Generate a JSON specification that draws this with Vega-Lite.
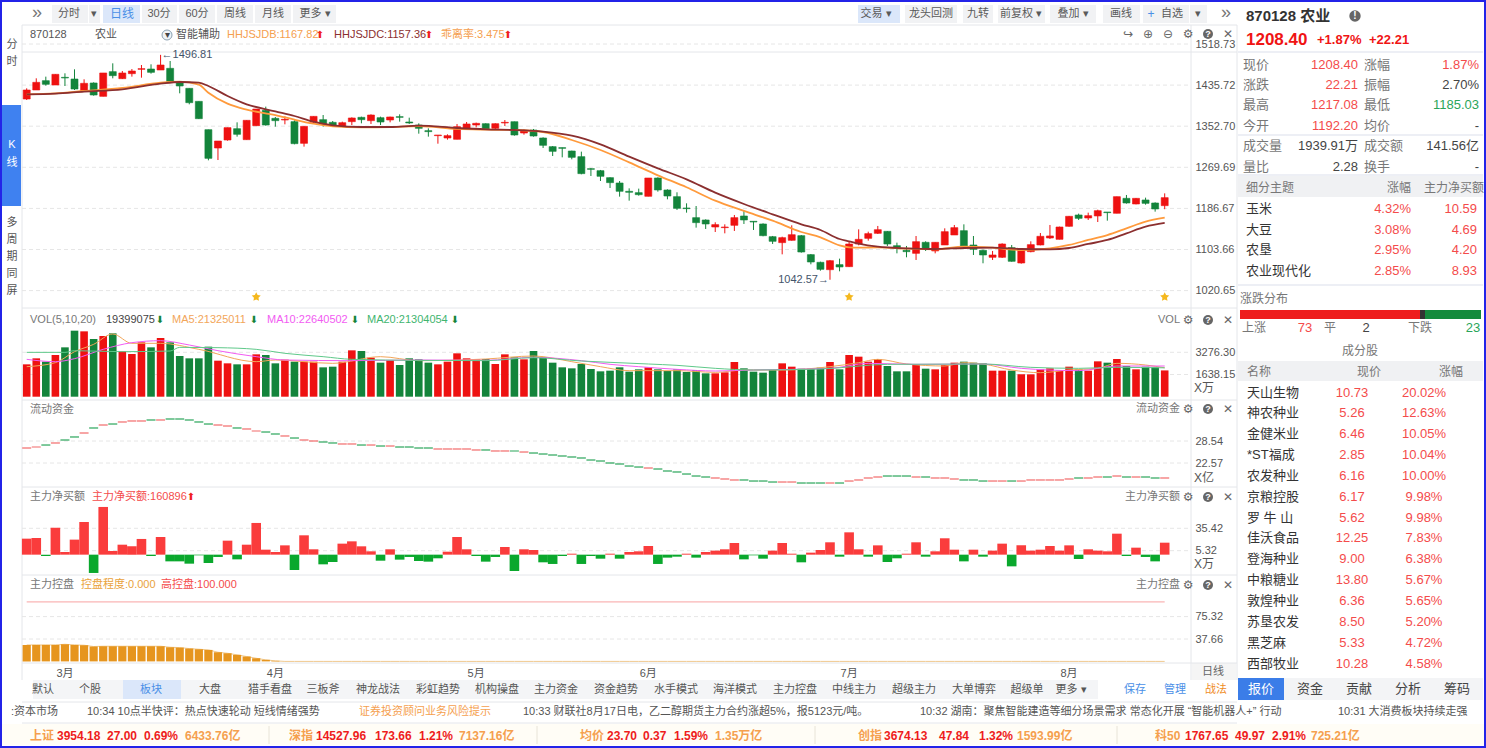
{"$schema":"https://vega.github.io/schema/vega-lite/v6.json","width":1486,"height":748,"autosize":{"type":"none"},"padding":0,"background":"#ffffff","config":{"view":{"stroke":null},"text":{"font":"Liberation Sans, Noto Sans CJK SC","baseline":"middle"},"axis":{"grid":false,"domain":false,"ticks":false,"title":null,"labelFont":"Liberation Sans","labelFontSize":11,"labelColor":"#555555","labelOverlap":false,"labelFlush":false}},"resolve":{"scale":{"x":"independent","y":"independent"}},"datasets":{"k":[
{"i":0,"o":1407.6,"c":1425.8,"h":1429.2,"l":1405.6,"v":2388,"f":26.64,"m":21.5,"p":27.7},
{"i":1,"o":1425.8,"c":1441.3,"h":1449.4,"l":1425.8,"v":2831,"f":26.91,"m":22.4,"p":27.7},
{"i":2,"o":1444.7,"c":1437.3,"h":1452.8,"l":1434.6,"v":2585,"f":27.45,"m":-1.8,"p":27.7},
{"i":3,"o":1435.9,"c":1457.5,"h":1457.5,"l":1435.9,"v":3077,"f":28.0,"m":36.3,"p":27.7},
{"i":4,"o":1451.4,"c":1450.1,"h":1459.5,"l":1433.9,"v":3642,"f":28.81,"m":3.6,"p":28.8},
{"i":5,"o":1448.0,"c":1427.8,"h":1467.6,"l":1425.8,"v":4872,"f":29.63,"m":20.2,"p":27.7},
{"i":6,"o":1423.8,"c":1439.3,"h":1447.4,"l":1422.5,"v":4823,"f":30.71,"m":43.9,"p":27.2},
{"i":7,"o":1440.0,"c":1415.7,"h":1441.3,"l":1414.4,"v":4257,"f":32.07,"m":-24.6,"p":25.0},
{"i":8,"o":1413.0,"c":1460.2,"h":1460.2,"l":1413.0,"v":4479,"f":32.88,"m":64.1,"p":25.5},
{"i":9,"o":1462.9,"c":1454.8,"h":1479.7,"l":1449.4,"v":4676,"f":33.15,"m":4.9,"p":25.5},
{"i":10,"o":1448.7,"c":1460.2,"h":1464.2,"l":1448.0,"v":3347,"f":33.7,"m":13.4,"p":25.5},
{"i":11,"o":1458.8,"c":1464.2,"h":1468.2,"l":1452.8,"v":3150,"f":33.97,"m":11.2,"p":25.5},
{"i":12,"o":1467.6,"c":1468.9,"h":1476.3,"l":1450.7,"v":4011,"f":33.97,"m":21.1,"p":25.5},
{"i":13,"o":1468.2,"c":1461.5,"h":1477.7,"l":1458.8,"v":3642,"f":34.24,"m":-1.8,"p":25.5},
{"i":14,"o":1466.2,"c":1476.3,"h":1496.81,"l":1466.2,"v":4331,"f":34.24,"m":23.7,"p":25.5},
{"i":15,"o":1469.6,"c":1442.7,"h":1484.4,"l":1441.3,"v":4011,"f":34.51,"m":-9.0,"p":23.8},
{"i":16,"o":1440.6,"c":1433.9,"h":1441.3,"l":1419.1,"v":3003,"f":34.51,"m":-9.0,"p":23.2},
{"i":17,"o":1429.2,"c":1400.2,"h":1429.2,"l":1396.9,"v":2831,"f":34.24,"m":-12.1,"p":21.6},
{"i":18,"o":1402.9,"c":1367.9,"h":1402.9,"l":1367.2,"v":2831,"f":33.7,"m":-0.9,"p":20.5},
{"i":19,"o":1345.7,"c":1287.8,"h":1345.7,"l":1283.8,"v":3692,"f":33.15,"m":-11.2,"p":19.3},
{"i":20,"o":1308.7,"c":1322.8,"h":1322.8,"l":1284.4,"v":2658,"f":32.88,"m":-3.1,"p":15.4},
{"i":21,"o":1324.8,"c":1349.8,"h":1349.8,"l":1323.5,"v":2462,"f":32.61,"m":18.8,"p":13.7},
{"i":22,"o":1347.7,"c":1336.3,"h":1360.5,"l":1331.6,"v":2388,"f":32.07,"m":-6.3,"p":11.0},
{"i":23,"o":1325.5,"c":1364.6,"h":1364.6,"l":1325.5,"v":2388,"f":31.8,"m":13.4,"p":8.2},
{"i":24,"o":1353.8,"c":1387.4,"h":1387.4,"l":1353.8,"v":3126,"f":31.25,"m":42.6,"p":5.3},
{"i":25,"o":1384.8,"c":1355.1,"h":1392.2,"l":1353.8,"v":3077,"f":30.98,"m":6.7,"p":2.6},
{"i":26,"o":1368.6,"c":1363.9,"h":1371.3,"l":1351.8,"v":2462,"f":30.44,"m":3.6,"p":0.9},
{"i":27,"o":1365.2,"c":1366.6,"h":1372.6,"l":1356.5,"v":2732,"f":29.9,"m":12.5,"p":0},
{"i":28,"o":1361.9,"c":1317.4,"h":1364.6,"l":1316.1,"v":2585,"f":29.35,"m":-20.6,"p":0},
{"i":29,"o":1318.1,"c":1352.4,"h":1352.4,"l":1311.4,"v":2585,"f":28.81,"m":26.0,"p":0},
{"i":30,"o":1360.5,"c":1372.6,"h":1372.6,"l":1358.5,"v":2585,"f":28.54,"m":7.2,"p":0},
{"i":31,"o":1365.9,"c":1356.5,"h":1375.3,"l":1351.8,"v":2166,"f":28.27,"m":-13.0,"p":0},
{"i":32,"o":1360.5,"c":1355.1,"h":1363.2,"l":1352.4,"v":2215,"f":28.0,"m":-9.9,"p":0},
{"i":33,"o":1353.1,"c":1359.8,"h":1361.9,"l":1351.1,"v":2585,"f":27.73,"m":14.8,"p":0},
{"i":34,"o":1361.9,"c":1369.3,"h":1370.6,"l":1355.1,"v":3421,"f":27.73,"m":17.9,"p":0},
{"i":35,"o":1370.6,"c":1365.9,"h":1372.0,"l":1358.5,"v":3372,"f":27.45,"m":11.2,"p":0},
{"i":36,"o":1363.9,"c":1375.3,"h":1376.7,"l":1357.2,"v":2880,"f":27.45,"m":4.5,"p":0},
{"i":37,"o":1369.9,"c":1361.2,"h":1372.0,"l":1355.1,"v":2511,"f":27.18,"m":-8.1,"p":0},
{"i":38,"o":1365.2,"c":1371.3,"h":1372.0,"l":1360.5,"v":2708,"f":27.18,"m":7.2,"p":0},
{"i":39,"o":1372.0,"c":1370.6,"h":1376.7,"l":1361.9,"v":2338,"f":26.91,"m":-6.7,"p":0},
{"i":40,"o":1361.2,"c":1359.2,"h":1369.9,"l":1357.2,"v":2831,"f":26.91,"m":-3.1,"p":0},
{"i":41,"o":1355.1,"c":1348.4,"h":1358.5,"l":1337.6,"v":2757,"f":26.64,"m":-8.5,"p":0},
{"i":42,"o":1343.7,"c":1341.7,"h":1348.4,"l":1331.6,"v":2511,"f":26.64,"m":-9.4,"p":0},
{"i":43,"o":1333.6,"c":1334.9,"h":1334.9,"l":1317.4,"v":2388,"f":26.37,"m":-4.9,"p":0},
{"i":44,"o":1328.9,"c":1333.6,"h":1336.3,"l":1325.5,"v":2585,"f":26.37,"m":4.0,"p":0},
{"i":45,"o":1326.2,"c":1351.8,"h":1357.2,"l":1326.2,"v":3200,"f":26.37,"m":23.7,"p":0},
{"i":46,"o":1346.4,"c":1357.2,"h":1361.2,"l":1346.4,"v":2831,"f":26.37,"m":7.2,"p":0},
{"i":47,"o":1355.1,"c":1358.5,"h":1359.9,"l":1350.4,"v":2757,"f":26.1,"m":-1.8,"p":0},
{"i":48,"o":1357.8,"c":1347.1,"h":1358.5,"l":1346.4,"v":2782,"f":26.1,"m":-9.4,"p":0},
{"i":49,"o":1348.4,"c":1357.8,"h":1358.5,"l":1346.4,"v":2413,"f":25.83,"m":-3.1,"p":0},
{"i":50,"o":1359.2,"c":1360.5,"h":1365.2,"l":1353.1,"v":3126,"f":25.83,"m":10.3,"p":0},
{"i":51,"o":1361.9,"c":1334.9,"h":1361.9,"l":1333.6,"v":2905,"f":25.83,"m":-22.0,"p":0},
{"i":52,"o":1339.0,"c":1343.0,"h":1346.4,"l":1335.6,"v":2757,"f":25.55,"m":7.2,"p":0},
{"i":53,"o":1345.0,"c":1332.9,"h":1347.1,"l":1331.6,"v":3372,"f":25.28,"m":6.3,"p":0},
{"i":54,"o":1328.9,"c":1314.1,"h":1330.2,"l":1308.7,"v":2880,"f":25.01,"m":-10.3,"p":0},
{"i":55,"o":1311.4,"c":1301.9,"h":1312.7,"l":1292.5,"v":2511,"f":24.74,"m":-12.5,"p":0},
{"i":56,"o":1309.4,"c":1308.0,"h":1309.4,"l":1289.8,"v":2167,"f":24.47,"m":-1.8,"p":0},
{"i":57,"o":1302.6,"c":1289.8,"h":1303.3,"l":1285.8,"v":2093,"f":24.2,"m":1.3,"p":0},
{"i":58,"o":1291.2,"c":1256.9,"h":1301.3,"l":1255.5,"v":2413,"f":23.93,"m":-12.5,"p":0},
{"i":59,"o":1266.9,"c":1265.6,"h":1268.3,"l":1252.1,"v":2044,"f":23.38,"m":-1.8,"p":0},
{"i":60,"o":1262.9,"c":1251.5,"h":1264.3,"l":1242.0,"v":1872,"f":23.11,"m":-5.4,"p":0},
{"i":61,"o":1248.8,"c":1238.7,"h":1249.5,"l":1227.9,"v":1921,"f":22.57,"m":1.3,"p":0},
{"i":62,"o":1238.0,"c":1221.2,"h":1242.0,"l":1210.4,"v":2167,"f":22.3,"m":-5.4,"p":0},
{"i":63,"o":1221.2,"c":1219.2,"h":1227.2,"l":1202.3,"v":1847,"f":21.75,"m":3.6,"p":0},
{"i":64,"o":1218.5,"c":1214.4,"h":1226.6,"l":1212.4,"v":2019,"f":21.48,"m":4.5,"p":0},
{"i":65,"o":1211.1,"c":1248.1,"h":1248.1,"l":1211.1,"v":2167,"f":21.21,"m":11.6,"p":0},
{"i":66,"o":1248.1,"c":1223.9,"h":1249.5,"l":1220.5,"v":2019,"f":20.94,"m":-12.5,"p":0},
{"i":67,"o":1223.9,"c":1211.7,"h":1225.2,"l":1205.0,"v":1896,"f":20.4,"m":-4.0,"p":0},
{"i":68,"o":1210.4,"c":1186.8,"h":1219.2,"l":1183.5,"v":2019,"f":20.13,"m":-2.7,"p":0},
{"i":69,"o":1187.5,"c":1186.2,"h":1196.9,"l":1178.1,"v":1822,"f":19.58,"m":1.3,"p":0},
{"i":70,"o":1168.0,"c":1157.9,"h":1191.5,"l":1147.8,"v":1970,"f":19.04,"m":-4.0,"p":0},
{"i":71,"o":1163.3,"c":1155.2,"h":1164.6,"l":1145.1,"v":1724,"f":18.77,"m":3.6,"p":0},
{"i":72,"o":1149.1,"c":1153.9,"h":1158.6,"l":1139.0,"v":1724,"f":18.5,"m":5.4,"p":0},
{"i":73,"o":1147.8,"c":1149.1,"h":1154.5,"l":1136.3,"v":1798,"f":18.23,"m":7.2,"p":0},
{"i":74,"o":1152.5,"c":1168.0,"h":1173.4,"l":1141.1,"v":2560,"f":17.96,"m":15.7,"p":0},
{"i":75,"o":1171.3,"c":1163.3,"h":1182.1,"l":1155.2,"v":2093,"f":17.96,"m":-6.3,"p":0},
{"i":76,"o":1160.6,"c":1159.2,"h":1160.6,"l":1143.1,"v":1847,"f":17.68,"m":-0.9,"p":0},
{"i":77,"o":1155.2,"c":1131.6,"h":1156.5,"l":1130.3,"v":1773,"f":17.68,"m":-5.4,"p":0},
{"i":78,"o":1129.6,"c":1120.2,"h":1131.0,"l":1114.8,"v":1970,"f":17.41,"m":5.4,"p":0},
{"i":79,"o":1117.5,"c":1127.6,"h":1129.6,"l":1093.9,"v":2462,"f":17.41,"m":15.7,"p":0},
{"i":80,"o":1122.2,"c":1133.6,"h":1152.5,"l":1121.5,"v":2216,"f":17.41,"m":1.3,"p":0},
{"i":81,"o":1131.6,"c":1098.6,"h":1132.9,"l":1097.3,"v":2068,"f":17.14,"m":-10.3,"p":0},
{"i":82,"o":1093.3,"c":1078.4,"h":1094.6,"l":1073.7,"v":2068,"f":17.14,"m":2.7,"p":0},
{"i":83,"o":1077.8,"c":1063.6,"h":1079.1,"l":1060.9,"v":2142,"f":17.14,"m":6.3,"p":0},
{"i":84,"o":1062.9,"c":1081.1,"h":1082.5,"l":1042.57,"v":2560,"f":17.14,"m":16.6,"p":0},
{"i":85,"o":1073.1,"c":1068.4,"h":1085.2,"l":1059.6,"v":2019,"f":17.14,"m":-2.7,"p":0},
{"i":86,"o":1069.0,"c":1114.8,"h":1120.2,"l":1068.4,"v":3077,"f":17.68,"m":30.0,"p":0},
{"i":87,"o":1114.8,"c":1124.2,"h":1144.4,"l":1112.1,"v":2954,"f":17.96,"m":7.2,"p":0},
{"i":88,"o":1126.2,"c":1135.7,"h":1139.7,"l":1121.5,"v":2585,"f":18.5,"m":-2.7,"p":0},
{"i":89,"o":1136.3,"c":1143.7,"h":1151.2,"l":1135.0,"v":2782,"f":18.77,"m":12.5,"p":0},
{"i":90,"o":1140.4,"c":1114.8,"h":1141.0,"l":1110.8,"v":2265,"f":19.04,"m":-9.9,"p":0},
{"i":91,"o":1111.4,"c":1107.4,"h":1117.5,"l":1095.9,"v":1872,"f":19.04,"m":-4.9,"p":0},
{"i":92,"o":1102.0,"c":1099.3,"h":1110.8,"l":1087.9,"v":1872,"f":19.04,"m":1.3,"p":0},
{"i":93,"o":1095.9,"c":1119.5,"h":1130.9,"l":1082.5,"v":2413,"f":18.77,"m":16.6,"p":0},
{"i":94,"o":1118.2,"c":1104.0,"h":1120.2,"l":1100.7,"v":2068,"f":18.77,"m":-2.7,"p":0},
{"i":95,"o":1100.7,"c":1118.2,"h":1118.2,"l":1095.9,"v":2019,"f":18.5,"m":4.5,"p":0},
{"i":96,"o":1112.8,"c":1139.7,"h":1146.4,"l":1112.8,"v":2339,"f":18.5,"m":22.0,"p":0},
{"i":97,"o":1133.0,"c":1147.8,"h":1153.2,"l":1133.0,"v":2511,"f":18.23,"m":6.7,"p":0},
{"i":98,"o":1141.7,"c":1110.8,"h":1154.5,"l":1108.1,"v":2585,"f":17.96,"m":-9.0,"p":0},
{"i":99,"o":1112.8,"c":1104.0,"h":1130.9,"l":1092.6,"v":2511,"f":17.96,"m":6.7,"p":0},
{"i":100,"o":1102.0,"c":1092.6,"h":1103.4,"l":1075.8,"v":2462,"f":17.68,"m":-2.7,"p":0},
{"i":101,"o":1087.9,"c":1092.6,"h":1100.7,"l":1082.5,"v":1921,"f":17.68,"m":5.4,"p":0},
{"i":102,"o":1087.9,"c":1114.8,"h":1116.2,"l":1086.5,"v":1921,"f":17.68,"m":14.8,"p":0},
{"i":103,"o":1107.4,"c":1079.8,"h":1112.8,"l":1079.1,"v":1921,"f":17.68,"m":-15.7,"p":0},
{"i":104,"o":1076.4,"c":1102.0,"h":1106.1,"l":1075.1,"v":1650,"f":17.68,"m":12.5,"p":0},
{"i":105,"o":1099.3,"c":1113.5,"h":1120.2,"l":1098.0,"v":1650,"f":17.96,"m":5.4,"p":0},
{"i":106,"o":1112.8,"c":1130.3,"h":1137.0,"l":1112.1,"v":2019,"f":17.96,"m":6.7,"p":0},
{"i":107,"o":1126.9,"c":1131.0,"h":1153.2,"l":1124.9,"v":2093,"f":17.96,"m":11.6,"p":0},
{"i":108,"o":1124.2,"c":1149.1,"h":1149.8,"l":1124.2,"v":1921,"f":17.96,"m":5.4,"p":0},
{"i":109,"o":1150.5,"c":1170.7,"h":1171.4,"l":1149.8,"v":2216,"f":18.23,"m":12.5,"p":0},
{"i":110,"o":1173.4,"c":1166.6,"h":1176.1,"l":1163.3,"v":2019,"f":18.5,"m":-5.8,"p":0},
{"i":111,"o":1167.3,"c":1172.0,"h":1178.1,"l":1163.3,"v":1921,"f":18.5,"m":7.2,"p":0},
{"i":112,"o":1171.4,"c":1182.1,"h":1184.1,"l":1159.2,"v":2610,"f":18.77,"m":5.4,"p":0},
{"i":113,"o":1179.4,"c":1178.1,"h":1179.4,"l":1161.9,"v":2511,"f":18.77,"m":4.5,"p":0},
{"i":114,"o":1176.8,"c":1210.4,"h":1210.4,"l":1176.8,"v":2782,"f":19.04,"m":28.2,"p":0},
{"i":115,"o":1207.0,"c":1197.6,"h":1213.8,"l":1196.3,"v":2265,"f":18.77,"m":-1.8,"p":0},
{"i":116,"o":1195.6,"c":1207.0,"h":1207.7,"l":1194.9,"v":2019,"f":18.77,"m":9.4,"p":0},
{"i":117,"o":1203.7,"c":1196.9,"h":1208.4,"l":1194.2,"v":2216,"f":18.77,"m":-3.1,"p":0},
{"i":118,"o":1197.6,"c":1185.5,"h":1198.9,"l":1180.1,"v":2167,"f":18.5,"m":-9.0,"p":0},
{"i":119,"o":1192.2,"c":1208.4,"h":1217.08,"l":1185.03,"v":1940,"f":18.5,"m":16.09,"p":0}
],
"bands":[{"i":0,"b":1417.1,"c":1417.1},{"i":3,"b":1419.1,"c":1418.4},{"i":6,"b":1423.8,"c":1422.5},{"i":10,"b":1429.9,"c":1427.2},{"i":14,"b":1440.6,"c":1438.6},{"i":16,"b":1442.7,"c":1442.0},{"i":18,"b":1436.6,"c":1440.6},{"i":19,"b":1420.4,"c":1433.9},{"i":21,"b":1398.2,"c":1413.7},{"i":23,"b":1386.1,"c":1396.9},{"i":26,"b":1375.3,"c":1382.7},{"i":28,"b":1365.9,"c":1373.3},{"i":30,"b":1357.8,"c":1361.9},{"i":32,"b":1352.4,"c":1354.5},{"i":35,"b":1350.4,"c":1351.1},{"i":38,"b":1351.1,"c":1351.1},{"i":41,"b":1353.1,"c":1353.8},{"i":45,"b":1347.1,"c":1349.1},{"i":48,"b":1345.7,"c":1346.4},{"i":51,"b":1345.0,"c":1345.0},{"i":54,"b":1341.0,"c":1341.7},{"i":57,"b":1324.8,"c":1333.6},{"i":60,"b":1304.6,"c":1316.1},{"i":63,"b":1279.7,"c":1291.2},{"i":66,"b":1253.5,"c":1267.6},{"i":69,"b":1229.3,"c":1245.4},{"i":72,"b":1202.3,"c":1218.5},{"i":75,"b":1181.5,"c":1195.6},{"i":78,"b":1161.9,"c":1174.7},{"i":81,"b":1139.0,"c":1154.5},{"i":83,"b":1128.3,"c":1143.1},{"i":85,"b":1112.1,"c":1124.9},{"i":86,"b":1108.1,"c":1120.2},{"i":87,"b":1107.4,"c":1115.5},{"i":89,"b":1108.1,"c":1109.4},{"i":92,"b":1105.4,"c":1106.1},{"i":95,"b":1104.0,"c":1104.7},{"i":98,"b":1109.4,"c":1106.7},{"i":101,"b":1107.4,"c":1107.4},{"i":104,"b":1102.7,"c":1104.7},{"i":107,"b":1106.1,"c":1104.0},{"i":109,"b":1112.8,"c":1106.7},{"i":111,"b":1122.9,"c":1114.8},{"i":113,"b":1132.9,"c":1122.9},{"i":115,"b":1146.4,"c":1136.3},{"i":117,"b":1159.9,"c":1149.8},{"i":119,"b":1167.82,"c":1157.36}],
"ma5":[{"i":0,"v":2215},{"i":3,"v":2511},{"i":5,"v":3322},{"i":7,"v":3864},{"i":9,"v":4626},{"i":11,"v":3938},{"i":14,"v":3938},{"i":18,"v":3495},{"i":24,"v":2585},{"i":26,"v":2708},{"i":32,"v":2462},{"i":37,"v":2954},{"i":41,"v":2659},{"i":48,"v":2782},{"i":53,"v":3003},{"i":57,"v":2585},{"i":60,"v":2216},{"i":63,"v":1921},{"i":68,"v":1921},{"i":72,"v":1798},{"i":75,"v":1970},{"i":79,"v":1970},{"i":84,"v":2216},{"i":87,"v":2511},{"i":89,"v":2757},{"i":92,"v":2413},{"i":96,"v":2265},{"i":98,"v":2511},{"i":100,"v":2413},{"i":103,"v":1970},{"i":106,"v":1773},{"i":109,"v":1970},{"i":112,"v":2093},{"i":114,"v":2462},{"i":117,"v":2339},{"i":119,"v":2132}],
"ma10":[{"i":0,"v":2757},{"i":3,"v":2585},{"i":5,"v":2806},{"i":8,"v":3495},{"i":11,"v":3987},{"i":14,"v":4134},{"i":17,"v":3814},{"i":20,"v":3396},{"i":24,"v":2954},{"i":27,"v":2708},{"i":34,"v":2658},{"i":41,"v":2708},{"i":48,"v":2684},{"i":53,"v":2905},{"i":58,"v":2659},{"i":61,"v":2388},{"i":64,"v":2216},{"i":68,"v":2019},{"i":72,"v":1896},{"i":76,"v":1970},{"i":84,"v":2093},{"i":88,"v":2462},{"i":93,"v":2388},{"i":100,"v":2413},{"i":104,"v":2093},{"i":110,"v":1921},{"i":114,"v":2265},{"i":119,"v":2264}],
"ma20":[{"i":0,"v":3273},{"i":4,"v":3273},{"i":5,"v":3396},{"i":10,"v":3322},{"i":15,"v":3372},{"i":16,"v":3642},{"i":20,"v":3618},{"i":24,"v":3495},{"i":27,"v":3200},{"i":31,"v":2954},{"i":34,"v":2757},{"i":41,"v":2680},{"i":48,"v":2659},{"i":53,"v":2880},{"i":58,"v":2634},{"i":61,"v":2536},{"i":65,"v":2413},{"i":68,"v":2314},{"i":72,"v":2093},{"i":76,"v":1970},{"i":83,"v":2044},{"i":90,"v":2388},{"i":100,"v":2413},{"i":105,"v":2167},{"i":110,"v":2093},{"i":114,"v":2167},{"i":119,"v":2130}]
},
"layer":[
{"data":{"values":[{"a":0,"b":1},{"a":2,"b":3},{"a":4,"b":5},{"a":6,"b":7},{"a":8,"b":9},{"a":10,"b":11},{"a":12,"b":13},{"a":14,"b":15},{"a":16,"b":17},{"a":18,"b":19},{"a":20,"b":21},{"a":22,"b":23},{"a":24,"b":25},{"a":26,"b":27},{"a":28,"b":29}]},"mark":{"type":"rect","color":"#f1f2f4"},"encoding":{"x":{"field":"a","type":"quantitative","axis":null,"scale":{"domain":[0,1,2,3,4,5,6,7,8,9,10,11,12,13,14,15,16,17,18,19,20,21,22,23,24,25,26,27,28,29],"range":[52,88,89,100,142,177,179,215,217,253,255,291,293,336,858,900,905,957,963,993,998,1045,1050,1096,1103,1140,1143,1189,1190,1207]}},"x2":{"field":"b"},"y":{"datum":0,"axis":null,"scale":{"domain":[0,1],"range":[5,23]}},"y2":{"datum":1}}},
{"data":{"values":[{"part":"日线"}]},"mark":{"type":"rect","color":"#dbe7fa"},"encoding":{"x":{"datum":0,"axis":null,"scale":{"domain":[0,1],"range":[103,140]}},"x2":{"datum":1},"y":{"datum":0,"axis":null,"scale":{"domain":[0,1],"range":[5,23]}},"y2":{"datum":1}}},
{"data":{"values":[{"part":"交易"}]},"mark":{"type":"rect","color":"#dbe7fa"},"encoding":{"x":{"datum":0,"axis":null,"scale":{"domain":[0,1],"range":[858,900]}},"x2":{"datum":1},"y":{"datum":0,"axis":null,"scale":{"domain":[0,1],"range":[5,23]}},"y2":{"datum":1}}},
{"data":{"values":[{"part":"K线"}]},"mark":{"type":"rect","color":"#3f81f0"},"encoding":{"x":{"datum":0,"axis":null,"scale":{"domain":[0,1],"range":[2,21]}},"x2":{"datum":1},"y":{"datum":0,"axis":null,"scale":{"domain":[0,1],"range":[105,206]}},"y2":{"datum":1}}},
{"data":{"values":[{"part":"tabs"}]},"mark":{"type":"rect","color":"#f4f5f7"},"encoding":{"x":{"datum":0,"axis":null,"scale":{"domain":[0,1],"range":[33,1098]}},"x2":{"datum":1},"y":{"datum":0,"axis":null,"scale":{"domain":[0,1],"range":[680,699]}},"y2":{"datum":1}}},
{"data":{"values":[{"part":"板块"}]},"mark":{"type":"rect","color":"#dbe7fa"},"encoding":{"x":{"datum":0,"axis":null,"scale":{"domain":[0,1],"range":[123,181]}},"x2":{"datum":1},"y":{"datum":0,"axis":null,"scale":{"domain":[0,1],"range":[680,699]}},"y2":{"datum":1}}},
{"data":{"values":[{"part":"指数"}]},"mark":{"type":"rect","color":"#fffdf6"},"encoding":{"x":{"datum":0,"axis":null,"scale":{"domain":[0,1],"range":[2,1484]}},"x2":{"datum":1},"y":{"datum":0,"axis":null,"scale":{"domain":[0,1],"range":[724,745]}},"y2":{"datum":1}}},
{"data":{"values":[{"a":0,"b":1},{"a":2,"b":3}]},"mark":{"type":"rect","color":"#f0f1f3"},"encoding":{"x":{"datum":0,"axis":null,"scale":{"domain":[0,1],"range":[1238,1483]}},"x2":{"datum":1},"y":{"field":"a","type":"quantitative","axis":null,"scale":{"domain":[0,1,2,3],"range":[176,197,361,381]}},"y2":{"field":"b"}}},
{"data":{"values":[{"a":0,"b":1},{"a":2,"b":3},{"a":4,"b":5},{"a":6,"b":7}]},"mark":{"type":"rect","color":"#edeff5"},"encoding":{"x":{"datum":0,"axis":null,"scale":{"domain":[0,1],"range":[1238,1483]}},"x2":{"datum":1},"y":{"field":"a","type":"quantitative","axis":null,"scale":{"domain":[0,1,2,3,4,5,6,7],"range":[51,53,134,136,174,176,284,286]}},"y2":{"field":"b"}}},
{"data":{"values":[{"part":"other tabs"}]},"mark":{"type":"rect","color":"#f3f4f6"},"encoding":{"x":{"datum":0,"axis":null,"scale":{"domain":[0,1],"range":[1284,1483]}},"x2":{"datum":1},"y":{"datum":0,"axis":null,"scale":{"domain":[0,1],"range":[678,700]}},"y2":{"datum":1}}},
{"data":{"values":[{"part":"报价"}]},"mark":{"type":"rect","color":"#3b7de8"},"encoding":{"x":{"datum":0,"axis":null,"scale":{"domain":[0,1],"range":[1238,1284]}},"x2":{"datum":1},"y":{"datum":0,"axis":null,"scale":{"domain":[0,1],"range":[678,700]}},"y2":{"datum":1}}},
{"data":{"values":[{"part":"日线标签"}]},"mark":{"type":"rect","color":"#f5f5f5"},"encoding":{"x":{"datum":0,"axis":null,"scale":{"domain":[0,1],"range":[1192,1236]}},"x2":{"datum":1},"y":{"datum":0,"axis":null,"scale":{"domain":[0,1],"range":[663,680]}},"y2":{"datum":1}}},
{"data":{"values":[{"a":0,"b":1,"n":"上涨"},{"a":1,"b":2,"n":"平"},{"a":2,"b":3,"n":"下跌"}]},"mark":{"type":"rect"},"encoding":{"x":{"field":"a","type":"quantitative","axis":null,"scale":{"domain":[0,1,2,3],"range":[1240,1420,1425,1481]}},"x2":{"field":"b"},"y":{"datum":0,"axis":null,"scale":{"domain":[0,1],"range":[310,319]}},"y2":{"datum":1},"color":{"condition":[{"test":"datum.n=='上涨'","value":"#ee1c1c"},{"test":"datum.n=='平'","value":"#333333"}],"value":"#148a3c"}}},
{"data":{"values":[{"a":0},{"a":1},{"a":2},{"a":3},{"a":4},{"a":5},{"a":6},{"a":7},{"a":8}]},"mark":{"type":"rule","color":"#e4e6ea","strokeWidth":1},"encoding":{"y":{"field":"a","type":"quantitative","axis":null,"scale":{"domain":[0,1,2,3,4,5,6,7,8],"range":[25,52,308,400,487,575,663,702,723]}},"x":{"datum":0,"axis":null,"scale":{"domain":[0,1],"range":[22,1237]}},"x2":{"datum":1}}},
{"data":{"values":[{"a":0},{"a":1},{"a":2}]},"mark":{"type":"rule","color":"#e4e6ea","strokeWidth":1},"encoding":{"x":{"field":"a","type":"quantitative","axis":null,"scale":{"domain":[0,1,2],"range":[22,1191,1237]}},"y":{"datum":0,"axis":null,"scale":{"domain":[0,1],"range":[25,680]}},"y2":{"datum":1}}},
{"data":{"values":[{"a":0},{"a":1},{"a":2},{"a":3}]},"mark":{"type":"rule","color":"#e8e4d8","strokeWidth":1},"encoding":{"x":{"field":"a","type":"quantitative","axis":null,"scale":{"domain":[0,1,2,3],"range":[269,537,815,1117]}},"y":{"datum":0,"axis":null,"scale":{"domain":[0,1],"range":[726,744]}},"y2":{"datum":1}}},
{"layer":[
{"data":{"values":[{"v":1518.73},{"v":1435.72},{"v":1352.70},{"v":1269.69},{"v":1186.67},{"v":1103.66},{"v":1020.65}]},"mark":{"type":"rule","color":"#e6e6e6","strokeDash":[4,3]},"encoding":{"x":{"datum":-0.49,"axis":null,"scale":{"domain":[0,119],"range":[26.7,1164.7],"nice":false,"zero":false,"padding":0}},"x2":{"datum":121.7},"y":{"field":"v","type":"quantitative","axis":{"orient":"right","offset":-294,"values":[1518.73,1435.72,1352.70,1269.69,1186.67,1103.66,1020.65],"format":".2f","labelPadding":3},"scale":{"domain":[1020.65,1518.73],"range":[290.6,44],"nice":false,"zero":false}}}},
{"data":{"name":"k"},"mark":{"type":"rule","strokeWidth":1},"encoding":{"x":{"field":"i","type":"quantitative"},"y":{"field":"h","type":"quantitative"},"y2":{"field":"l"},"color":{"condition":{"test":"datum.c>=datum.o","value":"#ee1111"},"value":"#13843b"}}},
{"data":{"name":"k"},"mark":{"type":"bar","orient":"vertical","size":7,"strokeWidth":0.6},"encoding":{"x":{"field":"i","type":"quantitative"},"y":{"field":"o","type":"quantitative"},"y2":{"field":"c"},"color":{"condition":{"test":"datum.c>=datum.o","value":"#ee1111"},"value":"#13843b"},"stroke":{"condition":{"test":"datum.c>=datum.o","value":"#ee1111"},"value":"#13843b"}}},
{"data":{"name":"bands"},"mark":{"type":"line","color":"#ff9a3c","strokeWidth":1.8,"interpolate":"monotone"},"encoding":{"x":{"field":"i","type":"quantitative"},"y":{"field":"b","type":"quantitative"}}},
{"data":{"name":"bands"},"mark":{"type":"line","color":"#8b2f2f","strokeWidth":1.8,"interpolate":"monotone"},"encoding":{"x":{"field":"i","type":"quantitative"},"y":{"field":"c","type":"quantitative"}}},
{"data":{"values":[{"i":14,"p":1496.81,"t":"←1496.81"}]},"mark":{"type":"text","align":"left","fontSize":11,"color":"#44546a","dx":1},"encoding":{"x":{"field":"i","type":"quantitative"},"y":{"field":"p","type":"quantitative"},"text":{"field":"t"}}},
{"data":{"values":[{"i":84,"p":1042.57,"t":"1042.57→"}]},"mark":{"type":"text","align":"right","fontSize":11,"color":"#44546a","dx":-1},"encoding":{"x":{"field":"i","type":"quantitative"},"y":{"field":"p","type":"quantitative"},"text":{"field":"t"}}},
{"data":{"values":[{"i":24,"p":1007.7},{"i":86,"p":1007.7},{"i":119,"p":1007.7}]},"mark":{"type":"point","filled":true,"color":"#f5b81e","opacity":1,"size":90,"shape":"M0,-1L0.294,-0.405L0.951,-0.309L0.476,0.155L0.588,0.809L0,0.5L-0.588,0.809L-0.476,0.155L-0.951,-0.309L-0.294,-0.405Z"},"encoding":{"x":{"field":"i","type":"quantitative"},"y":{"field":"p","type":"quantitative"}}}
]},
{"layer":[
{"data":{"values":[{"v":3276.30},{"v":1638.15}]},"mark":{"type":"rule","color":"#e6e6e6","strokeDash":[4,3]},"encoding":{"x":{"datum":-0.49,"axis":null,"scale":{"domain":[0,119],"range":[26.7,1164.7],"nice":false,"zero":false,"padding":0}},"x2":{"datum":121.7},"y":{"field":"v","type":"quantitative","axis":{"orient":"right","offset":-294,"values":[3276.30,1638.15],"format":".2f","labelPadding":3},"scale":{"domain":[1638.15,3276.30],"range":[374.5,352.3],"nice":false,"zero":false}}}},
{"data":{"name":"k"},"mark":{"type":"bar","orient":"vertical","size":7.6},"encoding":{"x":{"field":"i","type":"quantitative"},"y":{"field":"v","type":"quantitative"},"y2":{"datum":0},"color":{"condition":{"test":"datum.c>=datum.o","value":"#ee1111"},"value":"#13843b"}}},
{"data":{"name":"ma5"},"mark":{"type":"line","color":"#f2a65a","strokeWidth":1,"interpolate":"monotone"},"encoding":{"x":{"field":"i","type":"quantitative"},"y":{"field":"v","type":"quantitative"}}},
{"data":{"name":"ma10"},"mark":{"type":"line","color":"#f25cf2","strokeWidth":1,"interpolate":"monotone"},"encoding":{"x":{"field":"i","type":"quantitative"},"y":{"field":"v","type":"quantitative"}}},
{"data":{"name":"ma20"},"mark":{"type":"line","color":"#5fc98a","strokeWidth":1,"interpolate":"monotone"},"encoding":{"x":{"field":"i","type":"quantitative"},"y":{"field":"v","type":"quantitative"}}}
]},
{"layer":[
{"data":{"values":[{"v":28.54},{"v":22.57}]},"mark":{"type":"rule","color":"#e6e6e6","strokeDash":[4,3]},"encoding":{"x":{"datum":-0.49,"axis":null,"scale":{"domain":[0,119],"range":[26.7,1164.7],"nice":false,"zero":false,"padding":0}},"x2":{"datum":121.7},"y":{"field":"v","type":"quantitative","axis":{"orient":"right","offset":-294,"values":[28.54,22.57],"format":".2f","labelPadding":3},"scale":{"domain":[22.57,28.54],"range":[463,441],"nice":false,"zero":false}}}},
{"data":{"name":"k"},"mark":{"type":"tick","orient":"horizontal","size":9,"thickness":1.2,"opacity":1},"encoding":{"x":{"field":"i","type":"quantitative"},"y":{"field":"f","type":"quantitative"},"color":{"condition":{"test":"datum.c>=datum.o","value":"#f26a6a"},"value":"#2aa55a"}}}
]},
{"layer":[
{"data":{"values":[{"v":35.42},{"v":5.32}]},"mark":{"type":"rule","color":"#e6e6e6","strokeDash":[4,3]},"encoding":{"x":{"datum":-0.49,"axis":null,"scale":{"domain":[0,119],"range":[26.7,1164.7],"nice":false,"zero":false,"padding":0}},"x2":{"datum":121.7},"y":{"field":"v","type":"quantitative","axis":{"orient":"right","offset":-294,"values":[35.42,5.32],"format":".2f","labelPadding":3},"scale":{"domain":[5.32,35.42],"range":[550.7,528.3],"nice":false,"zero":false}}}},
{"data":{"name":"k"},"mark":{"type":"bar","orient":"vertical","size":9.6},"encoding":{"x":{"field":"i","type":"quantitative"},"y":{"field":"m","type":"quantitative"},"y2":{"datum":0},"color":{"condition":{"test":"datum.m>=0","value":"#fa3c3c"},"value":"#0aa82d"}}}
]},
{"layer":[
{"data":{"values":[{"v":75.32},{"v":37.66}]},"mark":{"type":"rule","color":"#e6e6e6","strokeDash":[4,3]},"encoding":{"x":{"datum":-0.49,"axis":null,"scale":{"domain":[0,119],"range":[26.7,1164.7],"nice":false,"zero":false,"padding":0}},"x2":{"datum":121.7},"y":{"field":"v","type":"quantitative","axis":{"orient":"right","offset":-294,"values":[75.32,37.66],"format":".2f","labelPadding":3},"scale":{"domain":[37.66,75.32],"range":[639,616.6],"nice":false,"zero":false}}}},
{"data":{"values":[{"i":0,"v":100},{"i":119,"v":100}]},"mark":{"type":"line","color":"#f8a3a3","strokeWidth":1},"encoding":{"x":{"field":"i","type":"quantitative"},"y":{"field":"v","type":"quantitative"}}},
{"data":{"name":"k"},"mark":{"type":"line","color":"#f0c98e","strokeWidth":1},"encoding":{"x":{"field":"i","type":"quantitative"},"y":{"field":"p","type":"quantitative"}}},
{"data":{"name":"k"},"mark":{"type":"bar","orient":"vertical","size":8.2,"color":"#e6951e"},"encoding":{"x":{"field":"i","type":"quantitative"},"y":{"field":"p","type":"quantitative"},"y2":{"datum":0}}},
{"data":{"values":[{"i":4,"t":"3月"},{"i":26,"t":"4月"},{"i":47,"t":"5月"},{"i":65,"t":"6月"},{"i":86,"t":"7月"},{"i":109,"t":"8月"}]},"mark":{"type":"text","fontSize":11,"color":"#555555"},"encoding":{"x":{"field":"i","type":"quantitative"},"y":{"datum":-21,"type":"quantitative"},"text":{"field":"t"}}}
]},
{"data":{"values":[{"t":"分时","n":1},{"t":"▾","n":2},{"t":"30分","n":3},{"t":"60分","n":4},{"t":"周线","n":5},{"t":"月线","n":6},{"t":"更多 ▾","n":7},{"t":"交易 ▾","n":8},{"t":"龙头回测","n":9},{"t":"九转","n":10},{"t":"前复权 ▾","n":11},{"t":"叠加 ▾","n":12},{"t":"画线","n":13},{"t":"自选","n":14},{"t":"▾","n":15}]},"mark":{"type":"text","fontSize":11,"color":"#5a5a5a"},"encoding":{"text":{"field":"t"},"x":{"field":"n","type":"quantitative","axis":null,"scale":{"domain":[0,1,2,3,4,5,6,7,8,9,10,11,12,13,14,15,16],"range":[37,69,94,159,197,235,273,315,876,931,978,1021,1073,1121,1172,1198,1226]}},"y":{"datum":0,"axis":null,"scale":{"domain":[0,1],"range":[14,15]}}}},
{"data":{"values":[{"t":"»","n":0},{"t":"»","n":1}]},"mark":{"type":"text","fontSize":18,"color":"#777777"},"encoding":{"text":{"field":"t"},"x":{"field":"n","type":"quantitative","axis":null,"scale":{"domain":[0,1],"range":[37,1226]}},"y":{"datum":0,"axis":null,"scale":{"domain":[0,1],"range":[13,14]}}}},
{"data":{"values":[{"t":"日线","n":0},{"t":"+","n":1}]},"mark":{"type":"text","fontSize":12,"color":"#4a8fe7"},"encoding":{"text":{"field":"t"},"x":{"field":"n","type":"quantitative","axis":null,"scale":{"domain":[0,1],"range":[122,1151]}},"y":{"datum":0,"axis":null,"scale":{"domain":[0,1],"range":[14,15]}}}},
{"data":{"values":[{"t":"分","n":0},{"t":"时","n":1},{"t":"多","n":2},{"t":"周","n":3},{"t":"期","n":4},{"t":"同","n":5},{"t":"屏","n":6}]},"mark":{"type":"text","fontSize":11,"color":"#555555"},"encoding":{"text":{"field":"t"},"y":{"field":"n","type":"quantitative","axis":null,"scale":{"domain":[0,1,2,3,4,5,6],"range":[45,62,223,240,257,274,291]}},"x":{"datum":0,"axis":null,"scale":{"domain":[0,1],"range":[12,13]}}}},
{"data":{"values":[{"t":"K","n":0},{"t":"线","n":1}]},"mark":{"type":"text","fontSize":11,"color":"#ffffff"},"encoding":{"text":{"field":"t"},"y":{"field":"n","type":"quantitative","axis":null,"scale":{"domain":[0,1],"range":[145,163]}},"x":{"datum":0,"axis":null,"scale":{"domain":[0,1],"range":[12,13]}}}},
{"data":{"values":[{"t":"870128","n":0},{"t":"农业","n":1},{"t":"智能辅助","n":2}]},"mark":{"type":"text","align":"left","fontSize":11,"color":"#555555"},"encoding":{"text":{"field":"t"},"x":{"field":"n","type":"quantitative","axis":null,"scale":{"domain":[0,1,2],"range":[30,95,176]}},"y":{"datum":0,"axis":null,"scale":{"domain":[0,1],"range":[35,36]}}}},
{"data":{"values":[{"part":"智能辅助开关"}]},"layer":[{"mark":{"type":"circle","fill":"#eef3f7","stroke":"#8aa0b0","strokeWidth":1,"opacity":1,"size":100},"encoding":{"x":{"datum":0,"axis":null,"scale":{"domain":[0,1],"range":[167,168]}},"y":{"datum":0,"axis":null,"scale":{"domain":[0,1],"range":[35,36]}}}},{"mark":{"type":"text","text":"▾","fontSize":10,"color":"#444444"},"encoding":{"x":{"datum":0},"y":{"datum":0}}}]},
{"data":{"values":[{"t":"HHJSJDB:1167.82","n":0},{"t":"乖离率:3.475","n":1}]},"mark":{"type":"text","align":"left","fontSize":11,"color":"#f5a04e"},"encoding":{"text":{"field":"t"},"x":{"field":"n","type":"quantitative","axis":null,"scale":{"domain":[0,1],"range":[227,441]}},"y":{"datum":0,"axis":null,"scale":{"domain":[0,1],"range":[35,36]}}}},
{"data":{"values":[{"t":"HHJSJDC:1157.36"}]},"mark":{"type":"text","align":"left","fontSize":11,"color":"#8b2f2f"},"encoding":{"text":{"field":"t"},"x":{"datum":0,"axis":null,"scale":{"domain":[0,1],"range":[334,335]}},"y":{"datum":0,"axis":null,"scale":{"domain":[0,1],"range":[35,36]}}}},
{"data":{"values":[{"t":"⬆","n":0,"r":0},{"t":"⬆","n":1,"r":0},{"t":"⬆","n":2,"r":0},{"t":"⬆","n":3,"r":1}]},"mark":{"type":"text","font":"DejaVu Sans","fontSize":10,"color":"#f02020"},"encoding":{"text":{"field":"t"},"x":{"field":"n","type":"quantitative","axis":null,"scale":{"domain":[0,1,2,3],"range":[320,429,508,191]}},"y":{"field":"r","type":"quantitative","axis":null,"scale":{"domain":[0,1],"range":[35,497]}}}},
{"data":{"values":[{"t":"⬇","n":0},{"t":"⬇","n":1},{"t":"⬇","n":2},{"t":"⬇","n":3}]},"mark":{"type":"text","font":"DejaVu Sans","fontSize":10,"color":"#13843b"},"encoding":{"text":{"field":"t"},"x":{"field":"n","type":"quantitative","axis":null,"scale":{"domain":[0,1,2,3],"range":[160,254,355,455]}},"y":{"datum":0,"axis":null,"scale":{"domain":[0,1],"range":[320,321]}}}},
{"data":{"values":[{"t":"↪","n":0,"r":0},{"t":"⊕","n":1,"r":0},{"t":"⊖","n":2,"r":0},{"t":"⚙","n":3,"r":0},{"t":"✕","n":5,"r":0},{"t":"⚙","n":3,"r":1},{"t":"✕","n":5,"r":1},{"t":"⚙","n":3,"r":2},{"t":"✕","n":5,"r":2},{"t":"⚙","n":3,"r":3},{"t":"✕","n":5,"r":3},{"t":"⚙","n":3,"r":4},{"t":"✕","n":5,"r":4}]},"mark":{"type":"text","font":"DejaVu Sans","fontSize":12,"color":"#666666"},"encoding":{"text":{"field":"t"},"x":{"field":"n","type":"quantitative","axis":null,"scale":{"domain":[0,1,2,3,4,5],"range":[1128,1148,1168,1188,1208,1228]}},"y":{"field":"r","type":"quantitative","axis":null,"scale":{"domain":[0,1,2,3,4],"range":[34,320,409,497,585]}}}},
{"data":{"values":[{"n":4,"r":0},{"n":4,"r":1},{"n":4,"r":2},{"n":4,"r":3},{"n":4,"r":4}]},"layer":[{"mark":{"type":"circle","color":"#666666","opacity":1,"size":100},"encoding":{"x":{"field":"n","type":"quantitative","axis":null,"scale":{"domain":[0,1,2,3,4,5],"range":[1128,1148,1168,1188,1208,1228]}},"y":{"field":"r","type":"quantitative","axis":null,"scale":{"domain":[0,1,2,3,4],"range":[34,320,409,497,585]}}}},{"mark":{"type":"text","text":"?","fontSize":9,"fontWeight":"bold","color":"#ffffff"},"encoding":{"x":{"field":"n","type":"quantitative"},"y":{"field":"r","type":"quantitative"}}}]},
{"data":{"values":[{"t":"VOL(5,10,20)","n":0,"r":0},{"t":"流动资金","n":0,"r":1},{"t":"主力净买额","n":0,"r":2},{"t":"主力控盘","n":0,"r":3}]},"mark":{"type":"text","align":"left","fontSize":11,"color":"#777777"},"encoding":{"text":{"field":"t"},"x":{"field":"n","type":"quantitative","axis":null,"scale":{"domain":[0,1],"range":[30,31]}},"y":{"field":"r","type":"quantitative","axis":null,"scale":{"domain":[0,1,2,3],"range":[320,410,497,585]}}}},
{"data":{"values":[{"t":"VOL ","r":0},{"t":"流动资金 ","r":1},{"t":"主力净买额 ","r":2},{"t":"主力控盘 ","r":3}]},"mark":{"type":"text","align":"right","fontSize":11,"color":"#777777"},"encoding":{"text":{"field":"t"},"x":{"datum":0,"axis":null,"scale":{"domain":[0,1],"range":[1180,1181]}},"y":{"field":"r","type":"quantitative","axis":null,"scale":{"domain":[0,1,2,3],"range":[320,409,497,585]}}}},
{"data":{"values":[{"t":"19399075"}]},"mark":{"type":"text","align":"left","fontSize":11,"color":"#444444"},"encoding":{"text":{"field":"t"},"x":{"datum":0,"axis":null,"scale":{"domain":[0,1],"range":[106,107]}},"y":{"datum":0,"axis":null,"scale":{"domain":[0,1],"range":[320,321]}}}},
{"data":{"values":[{"t":"MA5:21325011"}]},"mark":{"type":"text","align":"left","fontSize":11,"color":"#f2a65a"},"encoding":{"text":{"field":"t"},"x":{"datum":0,"axis":null,"scale":{"domain":[0,1],"range":[172,173]}},"y":{"datum":0,"axis":null,"scale":{"domain":[0,1],"range":[320,321]}}}},
{"data":{"values":[{"t":"MA10:22640502"}]},"mark":{"type":"text","align":"left","fontSize":11,"color":"#f25cf2"},"encoding":{"text":{"field":"t"},"x":{"datum":0,"axis":null,"scale":{"domain":[0,1],"range":[267,268]}},"y":{"datum":0,"axis":null,"scale":{"domain":[0,1],"range":[320,321]}}}},
{"data":{"values":[{"t":"MA20:21304054"}]},"mark":{"type":"text","align":"left","fontSize":11,"color":"#3fb56f"},"encoding":{"text":{"field":"t"},"x":{"datum":0,"axis":null,"scale":{"domain":[0,1],"range":[367,368]}},"y":{"datum":0,"axis":null,"scale":{"domain":[0,1],"range":[320,321]}}}},
{"data":{"values":[{"t":"主力净买额:160896","n":0,"r":0},{"t":"高控盘:100.000","n":1,"r":1}]},"mark":{"type":"text","align":"left","fontSize":11,"color":"#f44b4b"},"encoding":{"text":{"field":"t"},"x":{"field":"n","type":"quantitative","axis":null,"scale":{"domain":[0,1],"range":[92,161]}},"y":{"field":"r","type":"quantitative","axis":null,"scale":{"domain":[0,1],"range":[497,585]}}}},
{"data":{"values":[{"t":"控盘程度:0.000"}]},"mark":{"type":"text","align":"left","fontSize":11,"color":"#e9a23b"},"encoding":{"text":{"field":"t"},"x":{"datum":0,"axis":null,"scale":{"domain":[0,1],"range":[81,82]}},"y":{"datum":0,"axis":null,"scale":{"domain":[0,1],"range":[585,586]}}}},
{"data":{"values":[{"t":"X万","r":0},{"t":"X亿","r":1},{"t":"X万","r":2}]},"mark":{"type":"text","align":"left","fontSize":12,"color":"#555555"},"encoding":{"text":{"field":"t"},"x":{"datum":0,"axis":null,"scale":{"domain":[0,1],"range":[1194,1195]}},"y":{"field":"r","type":"quantitative","axis":null,"scale":{"domain":[0,1,2],"range":[388,478,564]}}}},
{"data":{"values":[{"t":"日线"}]},"mark":{"type":"text","fontSize":11,"color":"#666666"},"encoding":{"text":{"field":"t"},"x":{"datum":0,"axis":null,"scale":{"domain":[0,1],"range":[1213,1214]}},"y":{"datum":0,"axis":null,"scale":{"domain":[0,1],"range":[672,673]}}}},
{"data":{"values":[{"t":"默认","n":0},{"t":"个股","n":1},{"t":"大盘","n":2},{"t":"猎手看盘","n":3},{"t":"三板斧","n":4},{"t":"神龙战法","n":5},{"t":"彩虹趋势","n":6},{"t":"机构操盘","n":7},{"t":"主力资金","n":8},{"t":"资金趋势","n":9},{"t":"水手模式","n":10},{"t":"海洋模式","n":11},{"t":"主力控盘","n":12},{"t":"中线主力","n":13},{"t":"超级主力","n":14},{"t":"大单博弈","n":15},{"t":"超级单","n":16},{"t":"更多 ▾","n":17}]},"mark":{"type":"text","fontSize":11,"color":"#555555"},"encoding":{"text":{"field":"t"},"x":{"field":"n","type":"quantitative","axis":null,"scale":{"domain":[0,1,2,3,4,5,6,7,8,9,10,11,12,13,14,15,16,17],"range":[43,90,210,270,323,378,438,497,556,616,676,735,795,854,914,974,1027,1071]}},"y":{"datum":0,"axis":null,"scale":{"domain":[0,1],"range":[690,691]}}}},
{"data":{"values":[{"t":"板块","n":0},{"t":"保存","n":1},{"t":"管理","n":2}]},"mark":{"type":"text","fontSize":11,"color":"#4a8fe7"},"encoding":{"text":{"field":"t"},"x":{"field":"n","type":"quantitative","axis":null,"scale":{"domain":[0,1,2],"range":[151,1135,1175]}},"y":{"datum":0,"axis":null,"scale":{"domain":[0,1],"range":[690,691]}}}},
{"data":{"values":[{"t":"战法"}]},"mark":{"type":"text","fontSize":11,"color":"#f08c1e"},"encoding":{"text":{"field":"t"},"x":{"datum":0,"axis":null,"scale":{"domain":[0,1],"range":[1216,1217]}},"y":{"datum":0,"axis":null,"scale":{"domain":[0,1],"range":[690,691]}}}},
{"data":{"values":[{"t":":资本市场","n":0},{"t":"10:34 10点半快评：热点快速轮动 短线情绪强势","n":1},{"t":"10:33 财联社8月17日电，乙二醇期货主力合约涨超5%，报5123元/吨。","n":2},{"t":"10:32 湖南：聚焦智能建造等细分场景需求 常态化开展 “智能机器人+” 行动","n":3},{"t":"10:31 大消费板块持续走强","n":4}]},"mark":{"type":"text","align":"left","fontSize":11,"color":"#555555"},"encoding":{"text":{"field":"t"},"x":{"field":"n","type":"quantitative","axis":null,"scale":{"domain":[0,1,2,3,4],"range":[11,87,523,920,1338]}},"y":{"datum":0,"axis":null,"scale":{"domain":[0,1],"range":[712,713]}}}},
{"data":{"values":[{"t":"证券投资顾问业务风险提示"}]},"mark":{"type":"text","align":"left","fontSize":11,"color":"#f5a04e"},"encoding":{"text":{"field":"t"},"x":{"datum":0,"axis":null,"scale":{"domain":[0,1],"range":[359,360]}},"y":{"datum":0,"axis":null,"scale":{"domain":[0,1],"range":[712,713]}}}},
{"data":{"values":[{"t":"上证","n":0},{"t":"6433.76亿","n":1},{"t":"深指","n":2},{"t":"7137.16亿","n":3},{"t":"均价","n":4},{"t":"1.35万亿","n":5},{"t":"创指","n":6},{"t":"1593.99亿","n":7},{"t":"科50","n":8},{"t":"725.21亿","n":9}]},"mark":{"type":"text","align":"left","fontSize":12,"fontWeight":"bold","color":"#f5a04e"},"encoding":{"text":{"field":"t"},"x":{"field":"n","type":"quantitative","axis":null,"scale":{"domain":[0,1,2,3,4,5,6,7,8,9],"range":[30,185,289,459,580,715,858,1017,1155,1311]}},"y":{"datum":0,"axis":null,"scale":{"domain":[0,1],"range":[736,737]}}}},
{"data":{"values":[{"t":"3954.18","n":0},{"t":"27.00","n":1},{"t":"0.69%","n":2},{"t":"14527.96","n":3},{"t":"173.66","n":4},{"t":"1.21%","n":5},{"t":"23.70","n":6},{"t":"0.37","n":7},{"t":"1.59%","n":8},{"t":"3674.13","n":9},{"t":"47.84","n":10},{"t":"1.32%","n":11},{"t":"1767.65","n":12},{"t":"49.97","n":13},{"t":"2.91%","n":14}]},"mark":{"type":"text","align":"left","fontSize":12,"fontWeight":"bold","color":"#ee1c1c"},"encoding":{"text":{"field":"t"},"x":{"field":"n","type":"quantitative","axis":null,"scale":{"domain":[0,1,2,3,4,5,6,7,8,9,10,11,12,13,14],"range":[57,107,144,316,375,419,607,643,674,884,939,979,1185,1235,1272]}},"y":{"datum":0,"axis":null,"scale":{"domain":[0,1],"range":[736,737]}}}},
{"data":{"values":[{"t":"870128 农业"}]},"mark":{"type":"text","align":"left","fontSize":15,"fontWeight":"bold","color":"#333333"},"encoding":{"text":{"field":"t"},"x":{"datum":0,"axis":null,"scale":{"domain":[0,1],"range":[1246,1247]}},"y":{"datum":0,"axis":null,"scale":{"domain":[0,1],"range":[16,17]}}}},
{"data":{"values":[{"part":"提示"}]},"layer":[{"mark":{"type":"circle","color":"#666666","opacity":1,"size":130},"encoding":{"x":{"datum":0,"axis":null,"scale":{"domain":[0,1],"range":[1355,1356]}},"y":{"datum":0,"axis":null,"scale":{"domain":[0,1],"range":[16,17]}}}},{"mark":{"type":"text","text":"!","fontSize":10,"fontWeight":"bold","color":"#ffffff"},"encoding":{"x":{"datum":0},"y":{"datum":0}}}]},
{"data":{"values":[{"t":"1208.40"}]},"mark":{"type":"text","align":"left","fontSize":17,"fontWeight":"bold","color":"#f01414"},"encoding":{"text":{"field":"t"},"x":{"datum":0,"axis":null,"scale":{"domain":[0,1],"range":[1246,1247]}},"y":{"datum":0,"axis":null,"scale":{"domain":[0,1],"range":[40,41]}}}},
{"data":{"values":[{"t":"+1.87%","n":0},{"t":"+22.21","n":1}]},"mark":{"type":"text","align":"left","fontSize":13,"fontWeight":"bold","color":"#f01414"},"encoding":{"text":{"field":"t"},"x":{"field":"n","type":"quantitative","axis":null,"scale":{"domain":[0,1],"range":[1317,1369]}},"y":{"datum":0,"axis":null,"scale":{"domain":[0,1],"range":[40,41]}}}},
{"data":{"values":[{"r":"现价","a":"1208.40","ad":"u","l2":"涨幅","b":"1.87%","bd":"u"},{"r":"涨跌","a":"22.21","ad":"u","l2":"振幅","b":"2.70%","bd":"f"},{"r":"最高","a":"1217.08","ad":"u","l2":"最低","b":"1185.03","bd":"d"},{"r":"今开","a":"1192.20","ad":"u","l2":"均价","b":"-","bd":"f"},{"r":"成交量","a":"1939.91万","ad":"f","l2":"成交额","b":"141.56亿","bd":"f"},{"r":"量比","a":"2.28","ad":"f","l2":"换手","b":"-","bd":"f"}]},"layer":[
{"mark":{"type":"text","align":"left","fontSize":13,"color":"#777777"},"encoding":{"text":{"field":"r"},"x":{"datum":0,"axis":null,"scale":{"domain":[0,1,2,3],"range":[1243,1358,1364,1479]}},"y":{"field":"r","type":"nominal","sort":null,"axis":null,"scale":{"type":"point","range":[64.5,166.5],"padding":0}}}},
{"mark":{"type":"text","align":"right","fontSize":13},"encoding":{"text":{"field":"a"},"x":{"datum":1},"y":{"field":"r","type":"nominal","sort":null},"color":{"condition":{"test":"datum.ad=='u'","value":"#f44b4b"},"value":"#444444"}}},
{"mark":{"type":"text","align":"left","fontSize":13,"color":"#777777"},"encoding":{"text":{"field":"l2"},"x":{"datum":2},"y":{"field":"r","type":"nominal","sort":null}}},
{"mark":{"type":"text","align":"right","fontSize":13},"encoding":{"text":{"field":"b"},"x":{"datum":3},"y":{"field":"r","type":"nominal","sort":null},"color":{"condition":[{"test":"datum.bd=='u'","value":"#f44b4b"},{"test":"datum.bd=='d'","value":"#2aa55a"}],"value":"#444444"}}}
]},
{"data":{"values":[{"t":"细分主题","n":0},{"t":"主力净买额","n":2}]},"mark":{"type":"text","align":"left","fontSize":12,"color":"#777777"},"encoding":{"text":{"field":"t"},"x":{"field":"n","type":"quantitative","axis":null,"scale":{"domain":[0,2],"range":[1246,1424]}},"y":{"datum":0,"axis":null,"scale":{"domain":[0,1],"range":[188,189]}}}},
{"data":{"values":[{"t":"涨幅"}]},"mark":{"type":"text","align":"right","fontSize":12,"color":"#777777"},"encoding":{"text":{"field":"t"},"x":{"datum":0,"axis":null,"scale":{"domain":[0,1],"range":[1411,1412]}},"y":{"datum":0,"axis":null,"scale":{"domain":[0,1],"range":[188,189]}}}},
{"data":{"values":[{"name":"玉米","pct":"4.32%","net":"10.59"},{"name":"大豆","pct":"3.08%","net":"4.69"},{"name":"农垦","pct":"2.95%","net":"4.20"},{"name":"农业现代化","pct":"2.85%","net":"8.93"}]},"layer":[
{"mark":{"type":"text","align":"left","fontSize":13,"color":"#333333"},"encoding":{"text":{"field":"name"},"x":{"datum":0,"axis":null,"scale":{"domain":[0,1,2],"range":[1246,1411,1477]}},"y":{"field":"name","type":"nominal","sort":null,"axis":null,"scale":{"type":"point","range":[209,271],"padding":0}}}},
{"mark":{"type":"text","align":"right","fontSize":13,"color":"#f44b4b"},"encoding":{"text":{"field":"pct"},"x":{"datum":1},"y":{"field":"name","type":"nominal","sort":null}}},
{"mark":{"type":"text","align":"right","fontSize":13,"color":"#f44b4b"},"encoding":{"text":{"field":"net"},"x":{"datum":2},"y":{"field":"name","type":"nominal","sort":null}}}
]},
{"data":{"values":[{"t":"涨跌分布","n":0,"r":0},{"t":"上涨","n":1,"r":1},{"t":"平","n":2,"r":1},{"t":"下跌","n":3,"r":1}]},"mark":{"type":"text","align":"left","fontSize":12,"color":"#777777"},"encoding":{"text":{"field":"t"},"x":{"field":"n","type":"quantitative","axis":null,"scale":{"domain":[0,1,2,3],"range":[1240,1242,1324,1408]}},"y":{"field":"r","type":"quantitative","axis":null,"scale":{"domain":[0,1],"range":[299,328]}}}},
{"data":{"values":[{"t":"73","n":0},{"t":"2","n":1},{"t":"23","n":2}]},"mark":{"type":"text","fontSize":13},"encoding":{"text":{"field":"t"},"x":{"field":"n","type":"quantitative","axis":null,"scale":{"domain":[0,1,2],"range":[1305,1366,1473]}},"y":{"datum":0,"axis":null,"scale":{"domain":[0,1],"range":[328,329]}},"color":{"condition":[{"test":"datum.t=='73'","value":"#f44b4b"},{"test":"datum.t=='2'","value":"#444444"}],"value":"#2aa55a"}}},
{"data":{"values":[{"t":"成分股","n":1,"r":0},{"t":"现价","n":1.2,"r":1},{"t":"涨幅","n":2,"r":1}]},"mark":{"type":"text","fontSize":12,"color":"#777777"},"encoding":{"text":{"field":"t"},"x":{"field":"n","type":"quantitative","axis":null,"scale":{"domain":[1,1.2,2],"range":[1360,1369,1451]}},"y":{"field":"r","type":"quantitative","axis":null,"scale":{"domain":[0,1],"range":[351,372]}}}},
{"data":{"values":[{"t":"名称"}]},"mark":{"type":"text","align":"left","fontSize":12,"color":"#777777"},"encoding":{"text":{"field":"t"},"x":{"datum":0,"axis":null,"scale":{"domain":[0,1],"range":[1247,1248]}},"y":{"datum":0,"axis":null,"scale":{"domain":[0,1],"range":[372,373]}}}},
{"data":{"values":[{"name":"天山生物","price":"10.73","pct":"20.02%"},{"name":"神农种业","price":"5.26","pct":"12.63%"},{"name":"金健米业","price":"6.46","pct":"10.05%"},{"name":"*ST福成","price":"2.85","pct":"10.04%"},{"name":"农发种业","price":"6.16","pct":"10.00%"},{"name":"京粮控股","price":"6.17","pct":"9.98%"},{"name":"罗 牛 山","price":"5.62","pct":"9.98%"},{"name":"佳沃食品","price":"12.25","pct":"7.83%"},{"name":"登海种业","price":"9.00","pct":"6.38%"},{"name":"中粮糖业","price":"13.80","pct":"5.67%"},{"name":"敦煌种业","price":"6.36","pct":"5.65%"},{"name":"苏垦农发","price":"8.50","pct":"5.20%"},{"name":"黑芝麻","price":"5.33","pct":"4.72%"},{"name":"西部牧业","price":"10.28","pct":"4.58%"}]},"layer":[
{"mark":{"type":"text","align":"left","fontSize":13,"color":"#333333"},"encoding":{"text":{"field":"name"},"x":{"datum":0,"axis":null,"scale":{"domain":[0,1,2],"range":[1247,1352,1424]}},"y":{"field":"name","type":"nominal","sort":null,"axis":null,"scale":{"type":"point","range":[392.5,663.5],"padding":0}}}},
{"mark":{"type":"text","fontSize":13,"color":"#f44b4b"},"encoding":{"text":{"field":"price"},"x":{"datum":1},"y":{"field":"name","type":"nominal","sort":null}}},
{"mark":{"type":"text","fontSize":13,"color":"#f44b4b"},"encoding":{"text":{"field":"pct"},"x":{"datum":2},"y":{"field":"name","type":"nominal","sort":null}}}
]},
{"data":{"values":[{"t":"资金","n":1},{"t":"贡献","n":2},{"t":"分析","n":3},{"t":"筹码","n":4}]},"mark":{"type":"text","fontSize":13,"color":"#444444"},"encoding":{"text":{"field":"t"},"x":{"field":"n","type":"quantitative","axis":null,"scale":{"domain":[1,2,3,4],"range":[1310,1359,1408,1457]}},"y":{"datum":0,"axis":null,"scale":{"domain":[0,1],"range":[689,690]}}}},
{"data":{"values":[{"t":"报价"}]},"mark":{"type":"text","fontSize":13,"color":"#ffffff"},"encoding":{"text":{"field":"t"},"x":{"datum":0,"axis":null,"scale":{"domain":[0,1],"range":[1261,1262]}},"y":{"datum":0,"axis":null,"scale":{"domain":[0,1],"range":[689,690]}}}},
{"data":{"values":[{"part":"窗口边框"}]},"mark":{"type":"rect","fillOpacity":0,"fill":"#ffffff","stroke":"#2323e8","strokeWidth":2},"encoding":{"x":{"datum":0,"axis":null,"scale":{"domain":[0,1],"range":[1,1485]}},"x2":{"datum":1},"y":{"datum":0,"axis":null,"scale":{"domain":[0,1],"range":[1,747]}},"y2":{"datum":1}}}
]}
